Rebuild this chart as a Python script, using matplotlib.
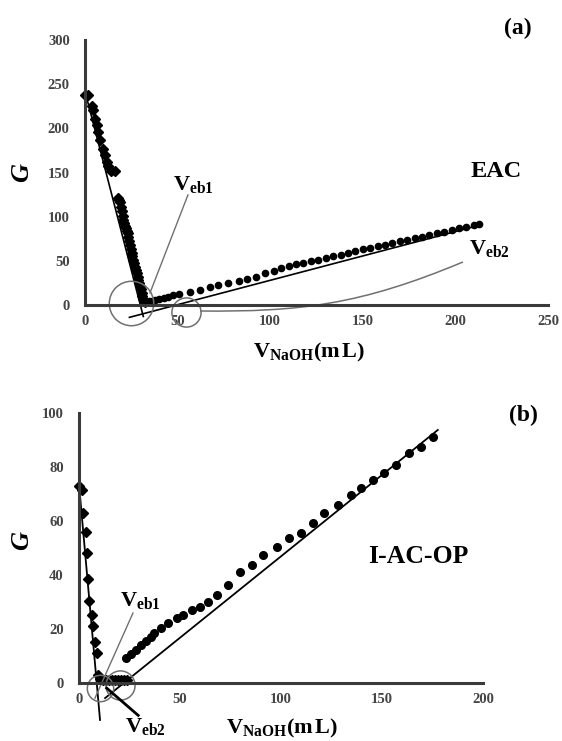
import matplotlib
matplotlib.use('Agg')
import matplotlib.pyplot as plt
from matplotlib.path import Path
from matplotlib.patches import PathPatch

# Datos (a) EAC
v_desc_a = [0, 1.5, 3.6, 4.5, 5.4, 6.3, 7.2, 8.1, 9.9, 10.8, 11.7, 12.6, 14.2, 16.4,
            18.0, 18.5, 18.9, 19.4, 19.8, 20.3, 20.7, 21.2, 21.6, 22.0, 22.5, 23.0,
            23.4, 23.8, 24.3, 24.8, 25.2, 25.6, 26.1, 26.6, 27.0, 27.5, 27.9, 28.4,
            28.8, 29.3, 29.7, 30.2, 30.6, 31.0, 31.5, 32.0, 32.4]
g_desc_a = [238, 238, 225, 221, 211, 204, 196, 187, 177, 170, 162, 157, 152, 152,
            121, 119, 117, 111, 106, 101, 96, 93, 90, 87, 84, 81, 77, 72, 68, 63,
            59, 55, 51, 47, 43, 40, 36, 32, 28, 25, 21, 18, 14, 10, 7, 5, 3]
v_asc_a = [33, 34.5, 36, 38, 40, 42.5, 45, 47.5, 51, 56.5, 62, 67.5, 72, 77.5, 83,
           87.5, 92.5, 97, 102, 106, 110, 114, 118, 122, 126, 130, 134, 138, 142,
           146, 150, 154, 158, 162, 166, 170, 174, 178, 182, 186, 190, 194, 198,
           202, 206, 210, 212.5]
g_asc_a = [3, 4, 5, 6, 7, 8, 9.5, 11, 13, 15, 17, 20.5, 22.5, 24.5, 27, 29.5, 32, 36,
           39, 42, 44, 46, 48, 50, 51.5, 53.5, 55.5, 57, 59, 61, 63, 64.5, 66.5, 68,
           70, 72, 74, 76, 77.5, 79.5, 81, 83, 85, 87, 88.5, 90.5, 91.5]
fit1_a_v = [0.5, 31.5]
fit1_a_g = [238, -13]
fit2_a_v = [24, 212.5]
fit2_a_g = [-14, 90]

# Datos (b) I-AC-OP
v_desc_b = [0, 1.3, 1.8, 3.5, 4.1, 4.6, 5.1, 6.3, 7.1, 7.9, 8.7, 9.6,
            10.5, 12, 13.5, 15, 16.5, 18, 19.5, 21, 22.5, 24]
g_desc_b = [73, 71.5, 63, 56, 48, 38.5, 30.5, 25, 21, 15, 11, 3,
            1.5, 1, 1, 1, 1, 1, 1, 1, 1, 1]
v_asc_b = [23.3, 25.5, 28, 30.5, 33, 35.5, 37, 40.5, 44.2, 48.4, 51.6, 55.8, 59.9,
           64.0, 68.2, 73.9, 79.7, 85.5, 91.2, 97.9, 104.1, 109.9, 115.7, 121.4,
           128.0, 134.7, 139.6, 145.4, 151.1, 156.9, 163.5, 169.3, 175.1]
g_asc_b = [9.3, 10.8, 12.3, 13.9, 15.5, 17, 18.5, 20.3, 22.1, 24.0, 25.2, 27.0, 28.3,
           30.1, 32.6, 36.3, 41.2, 43.7, 47.4, 50.5, 53.6, 55.4, 59.1, 62.8, 65.9,
           69.6, 72.1, 75.2, 77.7, 80.7, 85.1, 87.5, 91.2]
fit1_b_v = [0, 10.4]
fit1_b_g = [73.5, -13.7]
fit2_b_v = [12.9, 177.6]
fit2_b_g = [-5.6, 93.7]

ticks_x_a = [0, 50, 100, 150, 200, 250]
ticks_y_a = [0, 50, 100, 150, 200, 250, 300]
ticks_x_b = [0, 50, 100, 150, 200]
ticks_y_b = [0, 20, 40, 60, 80, 100]

plt.rcParams['font.family'] = ['Liberation Serif', 'DejaVu Serif']
plt.rcParams['mathtext.fontset'] = 'custom'
plt.rcParams['mathtext.rm'] = 'Liberation Serif:bold'
plt.rcParams['mathtext.bf'] = 'Liberation Serif:bold'
plt.rcParams['mathtext.it'] = 'Liberation Serif:bold:italic'

AXC = '#3a3a3a'
GRAY = '#707070'


def preparar_ejes(ax, xticks, yticks):
    ax.set_xlim(xticks[0], xticks[-1])
    ax.set_ylim(yticks[0], yticks[-1])
    ax.set_xticks(xticks)
    ax.set_yticks(yticks)
    ax.spines['top'].set_visible(False)
    ax.spines['right'].set_visible(False)
    for s in ['left', 'bottom']:
        ax.spines[s].set_linewidth(2.2)
        ax.spines[s].set_color(AXC)
    ax.tick_params(length=0, labelsize=10.5, labelcolor='#444444')
    ax.tick_params(axis='y', pad=11)
    ax.tick_params(axis='x', pad=7)
    for lab in ax.get_xticklabels() + ax.get_yticklabels():
        lab.set_fontweight('bold')
    ax.patch.set_alpha(0)


fig = plt.figure(figsize=(5.62, 7.41), dpi=100)

# ---------------- (a) ----------------
ax1 = fig.add_axes([0.1512, 0.5884, 0.8238, 0.3576])
preparar_ejes(ax1, ticks_x_a, ticks_y_a)

ax1.plot(fit1_a_v, fit1_a_g, color='black', lw=1.2, clip_on=False)
ax1.plot(fit2_a_v, fit2_a_g, color='black', lw=1.2, clip_on=False)
ax1.plot(v_desc_a, g_desc_a, 'D', color='black', ms=5, clip_on=False)
ax1.plot(v_asc_a, g_asc_a, 'o', color='black', ms=4.5, clip_on=False)

# circulos y marcas de los puntos de equivalencia
ax1.plot([25.1], [2.8], 'o', ms=32, mfc='none', mec=GRAY, mew=1.1, clip_on=False)
ax1.plot([54.5], [-8], 'o', ms=21, mfc='none', mec=GRAY, mew=1.1, clip_on=False)
ax1.plot([55.6, 35.1], [124.6, 13.6], color=GRAY, lw=1, clip_on=False)
curva = Path([(62.1, -6.8), (116.1, -7.9), (148.5, 0), (204.1, 48.7)],
             [Path.MOVETO, Path.CURVE4, Path.CURVE4, Path.CURVE4])
ax1.add_patch(PathPatch(curva, fc='none', ec=GRAY, lw=1.1, clip_on=False))

ax1.text(47.5, 136, r'$\mathbf{V_{eb1}}$', fontsize=16, ha='left', va='center')
ax1.text(207.3, 64.5, r'$\mathbf{V_{eb2}}$', fontsize=16, ha='left', va='center')
ax1.text(208.4, 150.6, 'EAC', fontsize=17.5, fontweight='bold', ha='left', va='center')

fig.text(518 / 562, 1 - 28 / 741, '(a)', fontsize=17, fontweight='bold',
         ha='center', va='center')
fig.text(22 / 562, 1 - 172 / 741, 'G', fontsize=19, fontweight='bold',
         fontstyle='italic', rotation=90, ha='center', va='center')
fig.text(309 / 562, 1 - 352 / 741, r'$\mathbf{V_{NaOH}(m\,L)}$', fontsize=16,
         ha='center', va='center')

# ---------------- (b) ----------------
ax2 = fig.add_axes([0.1406, 0.0783, 0.7189, 0.3644])
preparar_ejes(ax2, ticks_x_b, ticks_y_b)

ax2.plot(fit1_b_v, fit1_b_g, color='black', lw=1.3, clip_on=False)
ax2.plot(fit2_b_v, fit2_b_g, color='black', lw=1.3, clip_on=False)
ax2.plot(v_desc_b, g_desc_b, 'D', color='black', ms=5, clip_on=False)
ax2.plot(v_asc_b, g_asc_b, 'o', color='black', ms=5.5, clip_on=False)

ax2.plot([10.4], [-1.7], 'o', ms=19, mfc='none', mec=GRAY, mew=1.1, clip_on=False)
ax2.plot([20.3], [-0.7], 'o', ms=21, mfc='none', mec=GRAY, mew=1.1, clip_on=False)
ax2.plot([26.7, 7.9], [25.9, -5.6], color=GRAY, lw=1, clip_on=False)
ax2.plot([13.7, 29.3], [-1.9, -12], color='black', lw=2, clip_on=False)

ax2.text(20.3, 30.7, r'$\mathbf{V_{eb1}}$', fontsize=16, ha='left', va='center')
ax2.text(22.8, -16.3, r'$\mathbf{V_{eb2}}$', fontsize=16, ha='left', va='center')
ax2.text(143, 47, 'I-AC-OP', fontsize=18.5, fontweight='bold', ha='left', va='center')

fig.text(523 / 562, 1 - 415 / 741, '(b)', fontsize=17, fontweight='bold',
         ha='center', va='center')
fig.text(22 / 562, 1 - 540 / 741, 'G', fontsize=19, fontweight='bold',
         fontstyle='italic', rotation=90, ha='center', va='center')
fig.text(282 / 562, 1 - 728 / 741, r'$\mathbf{V_{NaOH}(m\,L)}$', fontsize=16,
         ha='center', va='center')

fig.savefig('out.png', dpi=100)
